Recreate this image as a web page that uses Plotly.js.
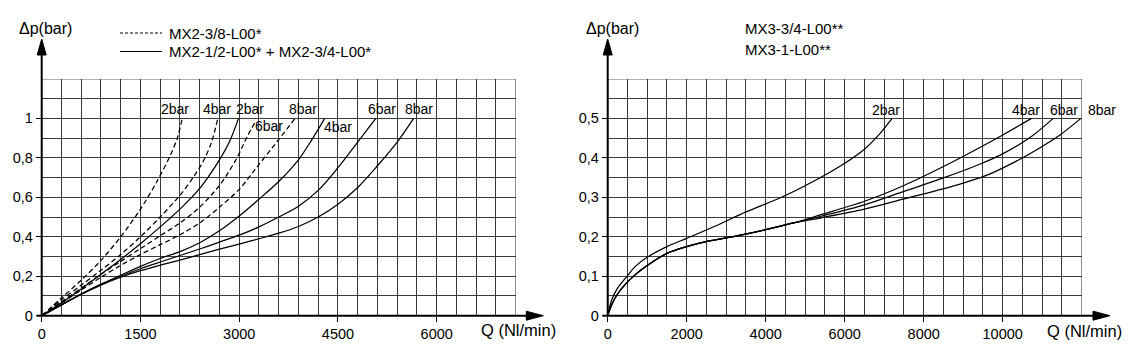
<!DOCTYPE html>
<html>
<head>
<meta charset="utf-8">
<script src="https://cdn.plot.ly/plotly-3.0.1.min.js"></script>
<style>html,body{margin:0;padding:0;background:#fff;}#chart{width:1129px;height:362px;}</style>
</head>
<body>
<div id="chart"></div>
<script>
// ---------- Data: left chart (MX2) ----------
const L_D2_Q = [0,300,600,900,1200,1500,1750,1950,2060,2135];
const L_D2_P = [0,0.09,0.18,0.28,0.40,0.54,0.68,0.81,0.90,1.0];
const L_D4_Q = [0,300,600,900,1200,1500,1800,2100,2300,2450,2580,2675];
const L_D4_P = [0,0.08,0.155,0.23,0.31,0.40,0.50,0.61,0.70,0.78,0.88,1.0];
const L_D6_Q = [0,300,600,900,1200,1500,1800,2100,2400,2700,2950,3125,3240];
const L_D6_P = [0,0.07,0.14,0.21,0.275,0.34,0.405,0.47,0.55,0.66,0.79,0.91,0.98];
const L_D8_Q = [0,300,600,900,1200,1500,1800,2100,2400,2700,3000,3250,3500,3850];
const L_D8_P = [0,0.065,0.13,0.195,0.255,0.31,0.36,0.41,0.47,0.55,0.64,0.745,0.85,1.0];
const L_S2_Q = [0,300,600,900,1200,1500,1800,2100,2400,2700,2850,2990];
const L_S2_P = [0,0.065,0.135,0.21,0.285,0.365,0.45,0.54,0.645,0.79,0.88,1.0];
const L_S4_Q = [0,300,600,900,1200,1500,1800,2100,2400,2700,3000,3300,3600,3900,4100,4300];
const L_S4_P = [0,0.055,0.11,0.16,0.205,0.25,0.29,0.325,0.37,0.43,0.505,0.59,0.68,0.79,0.89,1.0];
const L_S6_Q = [0,300,600,900,1200,1500,1800,2100,2400,2700,3000,3300,3600,3900,4200,4500,4800,5075];
const L_S6_P = [0,0.055,0.11,0.158,0.2,0.238,0.272,0.305,0.338,0.373,0.408,0.45,0.5,0.555,0.635,0.75,0.88,1.0];
const L_S8_Q = [0,300,600,900,1200,1500,1800,2100,2400,2700,3000,3300,3600,3900,4200,4500,4800,5100,5400,5650];
const L_S8_P = [0,0.055,0.108,0.155,0.195,0.228,0.256,0.282,0.31,0.337,0.363,0.39,0.418,0.452,0.5,0.565,0.65,0.76,0.88,1.0];

// ---------- Data: right chart (MX3) ----------
const R_2_Q = [0,100,250,450,700,1000,1500,2000,2700,3500,4400,5200,5900,6500,6880,7200];
const R_2_P = [0,0.04,0.07,0.095,0.125,0.148,0.175,0.196,0.226,0.263,0.30,0.34,0.38,0.422,0.46,0.5];
const R_4_Q = [0,100,250,450,700,1000,1500,2000,2600,3300,4000,4700,5400,6500,7500,8500,9400,10000,10730];
const R_4_P = [0,0.028,0.055,0.08,0.104,0.127,0.158,0.175,0.19,0.203,0.218,0.235,0.256,0.29,0.33,0.378,0.425,0.458,0.5];
const R_6_Q = [0,100,250,450,700,1000,1500,2000,2600,3300,4000,4700,5400,6500,7500,8500,9400,10000,10700,11280];
const R_6_P = [0,0.028,0.055,0.08,0.104,0.127,0.158,0.175,0.19,0.203,0.218,0.235,0.252,0.281,0.315,0.349,0.383,0.41,0.452,0.5];
const R_8_Q = [0,100,250,450,700,1000,1500,2000,2600,3300,4000,4700,5400,6500,7500,8900,9600,10200,10850,11450,11980];
const R_8_P = [0,0.028,0.055,0.08,0.104,0.127,0.158,0.175,0.19,0.203,0.218,0.235,0.248,0.27,0.296,0.333,0.356,0.384,0.42,0.458,0.5];

// ---------- Tick labels ----------
const L_X_TICKS = [0,1500,3000,4500,6000];
const L_X_TEXT = ["0","1500","3000","4500","6000"];
const L_Y_TICKS = [0,0.2,0.4,0.6,0.8,1];
const L_Y_TEXT = ["0","0,2","0,4","0,6","0,8","1"];
const R_X_TICKS = [0,2000,4000,6000,8000,10000];
const R_X_TEXT = ["0","2000","4000","6000","8000","10000"];
const R_Y_TICKS = [0,0.1,0.2,0.3,0.4,0.5];
const R_Y_TEXT = ["0","0,1","0,2","0,3","0,4","0,5"];

// ---------- Curve labels ----------
const L_LABELS = ["2bar","4bar","2bar","6bar","8bar","4bar","6bar","8bar"];
const L_LABEL_Q = [2025,2670,3164,3450,3962,4506,5170,5731];
const L_LABEL_P = [1.045,1.045,1.045,0.962,1.045,0.958,1.045,1.045];
const R_LABELS = ["2bar","4bar","6bar"];
const R_LABEL_Q = [7034,10597,11545];
const R_LABEL_P = [0.521,0.521,0.521];

const W = 1129, H = 362;
const fx = p => p / W;
const fy = p => (H - p) / H;
const FONT = "Liberation Sans, Arial, sans-serif";
const GRID = "#3a3a3a";

function curve(q, p, dash, xa, ya) {
  return {x: q, y: p, xaxis: xa, yaxis: ya, mode: "lines", hoverinfo: "skip", showlegend: false,
    line: {color: "#000", width: 1.25, dash: dash, shape: "spline", smoothing: 0.9}};
}
const DASH = "5px,3px";
const traces = [
  curve(L_D2_Q, L_D2_P, DASH, "x", "y"),
  curve(L_D4_Q, L_D4_P, DASH, "x", "y"),
  curve(L_D6_Q, L_D6_P, DASH, "x", "y"),
  curve(L_D8_Q, L_D8_P, DASH, "x", "y"),
  curve(L_S2_Q, L_S2_P, "solid", "x", "y"),
  curve(L_S4_Q, L_S4_P, "solid", "x", "y"),
  curve(L_S6_Q, L_S6_P, "solid", "x", "y"),
  curve(L_S8_Q, L_S8_P, "solid", "x", "y"),
  curve(R_2_Q, R_2_P, "solid", "x2", "y2"),
  curve(R_4_Q, R_4_P, "solid", "x2", "y2"),
  curve(R_6_Q, R_6_P, "solid", "x2", "y2"),
  curve(R_8_Q, R_8_P, "solid", "x2", "y2")
];

const yDom = [fy(315.7), fy(78.9)];
function xAxis(dom, range, tv, tt, minor, anchor) {
  return {domain: dom, range: range, anchor: anchor, tickvals: tv, ticktext: tt,
    ticks: "outside", ticklen: 5, tickwidth: 1, tickcolor: "#000",
    showgrid: true, gridcolor: GRID, gridwidth: 1, zeroline: false, showline: false,
    minor: {dtick: minor, tick0: 0, showgrid: true, gridcolor: GRID, gridwidth: 1, ticks: ""},
    tickfont: {family: FONT, size: 14.5, color: "#000"}, fixedrange: true};
}
function yAxis(range, tv, tt, minor, anchor) {
  return {domain: yDom, range: range, anchor: anchor, tickvals: tv, ticktext: tt,
    ticks: "outside", ticklen: 5, tickwidth: 1, tickcolor: "#000",
    showgrid: true, gridcolor: GRID, gridwidth: 1, zeroline: false, showline: false,
    minor: {dtick: minor, tick0: 0, showgrid: true, gridcolor: GRID, gridwidth: 1, ticks: ""},
    tickfont: {family: FONT, size: 14.5, color: "#000"}, fixedrange: true};
}

function pathP(pts) {
  return "M " + pts.map(p => fx(p[0]) + "," + fy(p[1])).join(" L ") + " Z";
}
function axisShapes(ox, oy, xEnd, yEnd) {
  return [
    {type: "line", xref: "paper", yref: "paper", x0: fx(ox - 5), y0: fy(oy), x1: fx(xEnd - 14), y1: fy(oy), line: {color: "#000", width: 2}},
    {type: "path", xref: "paper", yref: "paper", path: pathP([[xEnd, oy], [xEnd - 17, oy - 4.5], [xEnd - 17, oy + 4.5]]), fillcolor: "#000", line: {color: "#000", width: 1}},
    {type: "line", xref: "paper", yref: "paper", x0: fx(ox), y0: fy(oy), x1: fx(ox), y1: fy(yEnd + 14), line: {color: "#000", width: 2}},
    {type: "path", xref: "paper", yref: "paper", path: pathP([[ox, yEnd], [ox - 4.5, yEnd + 16], [ox + 4.5, yEnd + 16]]), fillcolor: "#000", line: {color: "#000", width: 1}}
  ];
}

const shapes = [
  {type: "rect", xref: "x", yref: "y", x0: 0, x1: 7200, y0: 0, y1: 1.2, line: {color: GRID, width: 1}, layer: "below"},
  {type: "rect", xref: "x2", yref: "y2", x0: 0, x1: 12000, y0: 0, y1: 0.6, line: {color: GRID, width: 1}, layer: "below"},
  ...axisShapes(41.7, 315.7, 543.3, 39),
  ...axisShapes(607.7, 315.7, 1110, 39),
  // legend samples
  {type: "line", xref: "paper", yref: "paper", x0: fx(120), x1: fx(162), y0: fy(33), y1: fy(33), line: {color: "#000", width: 1, dash: "3px,2px"}},
  {type: "line", xref: "paper", yref: "paper", x0: fx(120), x1: fx(162), y0: fy(51.5), y1: fy(51.5), line: {color: "#000", width: 1}}
];

function txt(text, x, y, xanchor, size, xref, yref) {
  return {text: text, x: x, y: y, xref: xref || "paper", yref: yref || "paper", xanchor: xanchor || "center", yanchor: "middle",
    showarrow: false, font: {family: FONT, size: size || 14, color: "#000"}};
}
const annotations = [
  txt("Δp(bar)", fx(45.5), fy(28), "center", 16),
  txt("Δp(bar)", fx(612), fy(28), "center", 16),
  txt("Q (Nl/min)", fx(518.5), fy(330), "center", 16.5),
  txt("Q (Nl/min)", fx(1084), fy(331), "center", 16.5),
  txt("MX2-3/8-L00*", fx(167), fy(33), "left", 15),
  txt("MX2-1/2-L00* + MX2-3/4-L00*", fx(167), fy(51.5), "left", 15),
  txt("MX3-3/4-L00**", fx(743), fy(29), "left", 15),
  txt("MX3-1-L00**", fx(743), fy(50), "left", 15)
];
L_LABELS.forEach((t, i) => annotations.push(txt(t, L_LABEL_Q[i], L_LABEL_P[i], "center", 14, "x", "y")));
R_LABELS.forEach((t, i) => annotations.push(txt(t, R_LABEL_Q[i], R_LABEL_P[i], "center", 14, "x2", "y2")));
{
  const a = txt("8bar", 12000, 0.521, "left", 14, "x2", "y2");
  a.xshift = 4;
  annotations.push(a);
}

const layout = {
  width: W, height: H,
  margin: {l: 0, r: 0, t: 0, b: 0, pad: 0},
  paper_bgcolor: "#fff", plot_bgcolor: "#fff",
  font: {family: FONT, color: "#000", size: 14},
  showlegend: false,
  xaxis: xAxis([fx(41.7), fx(515.7)], [0, 7200], L_X_TICKS, L_X_TEXT, 300, "y"),
  yaxis: yAxis([0, 1.2], L_Y_TICKS, L_Y_TEXT, 0.1, "x"),
  xaxis2: xAxis([fx(607.7), fx(1081.7)], [0, 12000], R_X_TICKS, R_X_TEXT, 500, "y2"),
  yaxis2: yAxis([0, 0.6], R_Y_TICKS, R_Y_TEXT, 0.05, "x2"),
  shapes: shapes,
  annotations: annotations
};

Plotly.newPlot("chart", traces, layout, {staticPlot: true, displayModeBar: false});
</script>
</body>
</html>
